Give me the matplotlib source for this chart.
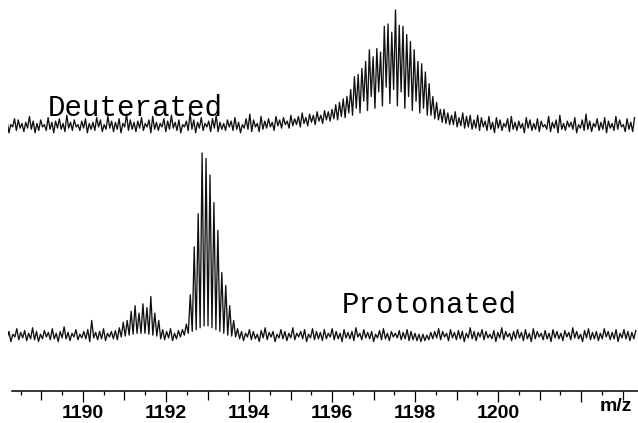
import numpy as np
import matplotlib
matplotlib.use("Agg")
import matplotlib.pyplot as plt

# profile spectra on a uniform m/z grid: one peak top and one valley per step
deut_start = 1188.17
deut_step = 0.09
deut_peaks = [
    5, 2, 7, 6, 3, 4, 9, 5, 3, 6,
    2, 8, 4, 5, 7, 3, 10, 4, 6, 2,
    5, 7, 3, 4, 8, 6, 2, 9, 5, 4,
    7, 3, 11, 6, 4, 5, 8, 3, 6, 9,
    4, 3, 7, 5, 10, 4, 6, 2, 5, 12,
    6, 4, 8, 3, 5, 7, 10, 4, 3, 6,
    5, 8, 4, 2, 7, 11, 6, 3, 9, 5,
    7, 4, 9, 6, 8, 5, 10, 7, 9, 12,
    8, 11, 10, 13, 10, 14, 13, 15, 19, 21,
    24, 26, 32, 43, 45, 50, 56, 66, 60, 67,
    64, 86, 88, 81, 100, 87, 86, 79, 73, 66,
    56, 54, 47, 37, 26, 21, 15, 15, 12, 10,
    13, 8, 12, 9, 10, 6, 10, 8, 5, 9,
    4, 8, 6, 3, 7, 9, 4, 5, 3, 8,
    6, 3, 7, 5, 2, 9, 4, 6, 10, 3,
    5, 4, 8, 2, 6, 11, 5, 3, 7, 4,
    8, 5, 3, 9, 6, 2, 7, 4, 8,
]
deut_valleys = [
    -2, -5, 0, -3, -1, -4, -1, -2, -5, -3,
    0, -3, -2, -5, -1, -2, -4, -1, -3, 0,
    -3, -1, -5, -2, -3, 0, -4, -2, -1, -4,
    -2, -5, 0, -3, -2, -4, -1, -3, 0, -5,
    -2, -3, 0, -4, -2, -1, -3, -5, 0, -3,
    -2, -5, -1, -3, 0, -4, -1, -4, -2, -3,
    0, -3, -2, -5, -1, -2, -4, 0, -4, -2,
    -1, 0, -3, 1, -1, 2, -1, 1, 2, 0,
    3, 1, 4, 2, 5, 3, 6, 5, 7, 6,
    9, 8, 12, 10, 16, 12, 22, 14, 26, 16,
    30, 18, 34, 20, 32, 18, 30, 16, 26, 14,
    22, 12, 16, 10, 10, 7, 6, 4, 3, 2,
    2, 0, 1, -1, 0, -2, -1, -3, 0, -3,
    -2, -5, -1, -3, 0, -4, -2, -3, -1, -5,
    -1, -3, -2, -4, 0, -2, -4, -1, -5, -2,
    -3, 0, -2, -5, -1, -3, -2, -4, 0, -3,
    -2, -5, -1, -3, -2, 0, -4, -2, -4,
]

prot_start = 1188.215
prot_step = 0.095
prot_peaks = [
    3, 1.5, 4.5, 2.5, 3.5, 2, 5, 3, 1.5, 3.5,
    2.5, 4.5, 2, 3, 5.5, 2.5, 2, 4, 1.5, 3,
    4, 9, 2.5, 3, 4.5, 2, 3, 3.5, 5, 8,
    9, 14, 17, 13, 18, 16, 22, 13, 9, 4,
    3, 4.5, 2, 3.5, 4, 7, 23, 49, 67, 100,
    97, 88, 73, 58, 35, 28, 17, 9, 4.5, 3,
    2, 4, 3, 1.5, 3.5, 5, 2.5, 3, 1.5, 4,
    3, 2, 5, 2, 3, 4, 1.5, 4.5, 3, 2.5,
    4, 2, 4.5, 3, 2, 4, 2.5, 3, 5, 2,
    4, 2.5, 3, 1.5, 3.5, 4.5, 2, 3, 2, 3.5,
    2.5, 4, 3, 2, 1.5, 1.5, 1, 2.5, 3, 4.5,
    3, 2, 4, 2.5, 3.5, 3, 2, 5, 3, 2.5,
    4, 3, 1.5, 3.5, 2.5, 5, 3, 2, 3, 4,
    2.5, 4, 2, 4.5, 3, 2, 3.5, 2, 4, 3,
    2, 3.5, 2.5, 5, 3, 1.5, 3.5, 4.5, 2.5, 3,
    2, 4.5, 3, 2.5, 4, 2, 4, 3, 2.5, 3.5,
]
prot_valleys = [
    -1, -2.5, 0, -1.5, -0.5, -2, -1, -1.5, -2.5, -1,
    0, -1.5, -1, -2.5, -0.5, -1, -2, 0, -1.5, -0.5,
    -1, -2.5, -0.5, -1.5, -1, -2, 0, -1, -1.5, 0,
    0.5, 1, 1.5, 2, 2, 2, 1.5, 1, 0.5, -1,
    -1.5, -0.5, -2, -1, 0, 1, 2, 3, 4, 5,
    6, 6, 5, 4, 3, 2, 1, 0.5, 0, -1,
    -2, 0, -1.5, -1, -2.5, -0.5, -1.5, 0, -2.5, -0.5,
    -1, -2, -0.5, -1.5, 0, -1, -2.5, -0.5, -1.5, -1,
    -2, -1, 0, -1.5, -1, -2.5, -0.5, -1, -2, 0,
    -1.5, -0.5, -1, -2.5, -0.5, -1.5, -1, -2, 0, -0.5,
    -1.5, -1, -2, -1.5, -2, -2.5, -2, -1.5, -1, -0.5,
    -1.5, 0, -2, -0.5, -1.5, -1, -2.5, -0.5, -1, -2,
    0, -1.5, -0.5, -1, -2.5, -0.5, -1.5, 0, -2, -1,
    -0.5, -2, -1, -2.5, -1, 0, -1.5, -1, -2.5, -0.5,
    -1, -2, 0, -1.5, -0.5, -1, -2.5, -0.5, -1.5, -1,
    -2, -1, 0, -1.5, -1, -2.5, -0.5, -1, -2, -1,
]

tick_labels = ["1190", "1192", "1194", "1196", "1198", "1200"]
label_ticks = [1190, 1192, 1194, 1196, 1198, 1200]


def profile(start, step, peaks, valleys):
    m = start + step * np.arange(len(peaks))
    x = np.column_stack([m - step / 2, m]).ravel()
    y = np.column_stack([valleys, peaks]).ravel()
    return x, y


W, H = 638, 423
fig = plt.figure(figsize=(W / 100, H / 100), dpi=100)
xlim = (1188.193, 1203.373)

ax_d = fig.add_axes([8 / W, (H - 150) / H, 630 / W, 150 / H])
ax_p = fig.add_axes([8 / W, (H - 391) / H, 630 / W, 241 / H])

x, y = profile(deut_start, deut_step, deut_peaks, deut_valleys)
ax_d.plot(x, y, color="#111111", lw=0.95)
ax_d.set_xlim(*xlim)
ax_d.set_ylim(-19.7, 108.5)
ax_d.axis("off")

x, y = profile(prot_start, prot_step, prot_peaks, prot_valleys)
ax_p.plot(x, y, color="#111111", lw=0.95)
ax_p.set_xlim(*xlim)
ax_p.set_ylim(-29.35, 101.6)
for s in ["top", "left", "right"]:
    ax_p.spines[s].set_visible(False)
ax_p.spines["bottom"].set_linewidth(1.1)
ax_p.spines["bottom"].set_bounds(1188.29, xlim[1])
ax_p.set_yticks([])

major = np.arange(1189, 1204)
ax_p.set_xticks(major)
ax_p.set_xticklabels([tick_labels[label_ticks.index(t)] if t in label_ticks else ""
                      for t in major])
ax_p.set_xticks(np.arange(1188.5, 1203.5, 1.0), minor=True)
ax_p.tick_params(axis="x", which="major", length=6.5, width=0.9, pad=3.5,
                 labelsize=14, direction="out")
ax_p.tick_params(axis="x", which="minor", length=3.2, width=0.9, direction="out")
for t, tick in zip(major, ax_p.xaxis.get_major_ticks()):
    if t % 2 == 0:
        tick.tick1line.set_markersize(8)
for lbl in ax_p.get_xticklabels():
    lbl.set_fontfamily("Liberation Sans")
    lbl.set_fontweight("bold")

ax_p.text(1202.85, -0.03, "m/z", transform=ax_p.get_xaxis_transform(),
          ha="center", va="top", fontsize=14, fontweight="bold",
          family="Liberation Sans")

fig.text(48 / W, 1 - 116 / H, "Deuterated", family="Liberation Mono",
         fontsize=21, va="baseline", ha="left")
fig.text(342 / W, 1 - 313 / H, "Protonated", family="Liberation Mono",
         fontsize=21, va="baseline", ha="left")

fig.savefig("out.png", dpi=100)
